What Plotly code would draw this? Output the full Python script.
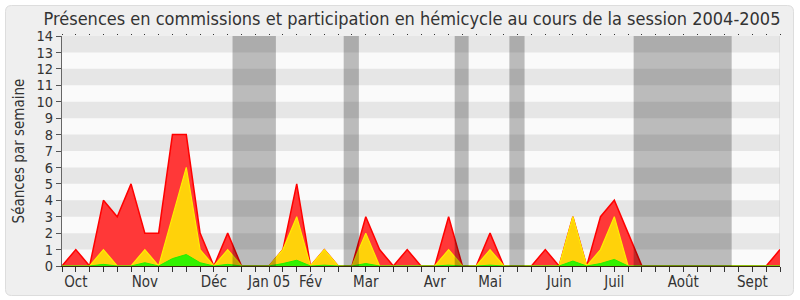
import plotly.graph_objects as go

# ---- data (weekly, session 2004-2005) ----
weeks = list(range(53))
total = [0, 1, 0, 4, 3, 5, 2, 2, 8, 8, 2, 0, 2, 0, 0, 0, 1, 5, 0, 1, 0, 0, 3, 1, 0, 1,
         0, 0, 3, 0, 0, 2, 0, 0, 0, 1, 0, 3, 0, 3, 4, 2, 0, 0, 0, 0, 0, 0, 0, 0, 0, 0, 1]
hemicycle = [0, 0, 0, 1, 0, 0, 1, 0, 3, 6, 1, 0, 1, 0, 0, 0, 1, 3, 0, 1, 0, 0, 2, 0, 0, 0,
             0, 0, 1, 0, 0, 1, 0, 0, 0, 0, 0, 3, 0, 1, 3, 0, 0, 0, 0, 0, 0, 0, 0, 0, 0, 0, 0]
interventions = [0, 0, 0, 0.1, 0, 0, 0.2, 0, 0.45, 0.7, 0.2, 0, 0.1, 0, 0, 0, 0.15, 0.35, 0, 0.05,
                 0, 0, 0.15, 0, 0, 0, 0, 0, 0.05, 0, 0, 0.05, 0, 0, 0, 0, 0, 0.3, 0, 0.15, 0.4, 0,
                 0, 0, 0, 0, 0, 0, 0, 0, 0, 0, 0]
month_labels = ["Oct", "Nov", "Déc", "Jan 05", "Fév", "Mar", "Avr", "Mai", "Juin", "Juil", "Août", "Sept"]
month_weeks = [1, 6, 11, 15, 18, 22, 27, 31, 36, 40, 45, 50]
break_starts = [12.35, 20.4, 28.44, 32.4, 41.4]
break_ends = [15.49, 21.5, 29.45, 33.5, 48.5]
y_ticks = list(range(15))

W, H = 800, 300
L, R, T, B = 62, 20, 36, 34
pw, ph = W - L - R, H - T - B


def fx(px):
    return (px - L) / pw


def fy(py):
    return (H - B - py) / ph


fig = go.Figure()
fig.add_trace(go.Scatter(x=weeks, y=total, mode="lines", fill="tozeroy",
                         line=dict(color="#ff0000", width=1.5), fillcolor="#ff3838",
                         hoverinfo="skip", showlegend=False))
fig.add_trace(go.Scatter(x=weeks, y=hemicycle, mode="lines", fill="tozeroy",
                         line=dict(color="#ffee00", width=1.2), fillcolor="#ffd20a",
                         hoverinfo="skip", showlegend=False))
fig.add_trace(go.Scatter(x=weeks, y=interventions, mode="lines", fill="tozeroy",
                         line=dict(color="#22ee00", width=1), fillcolor="#33f200",
                         hoverinfo="skip", showlegend=False))

shapes = []
# outer rounded panel
x0, x1, y0, y1 = fx(5.5), fx(793.5), fy(5.5), fy(295.5)
r = 6
rx, ry = r / pw, r / ph
path = (f"M {x0+rx},{y0} L {x1-rx},{y0} Q {x1},{y0} {x1},{y0-ry} "
        f"L {x1},{y1+ry} Q {x1},{y1} {x1-rx},{y1} L {x0+rx},{y1} Q {x0},{y1} {x0},{y1+ry} "
        f"L {x0},{y0-ry} Q {x0},{y0} {x0+rx},{y0} Z")
shapes.append(dict(type="path", xref="paper", yref="paper", path=path,
                   fillcolor="#efefef", line=dict(color="#dddddd", width=1), layer="below"))
# plot background and bands
shapes.append(dict(type="rect", xref="x", yref="y", x0=0, x1=52, y0=0, y1=14,
                   fillcolor="#fafafa", line=dict(width=0), layer="below"))
for v in y_ticks[1:-1:2]:
    shapes.append(dict(type="rect", xref="x", yref="y", x0=0, x1=52, y0=v, y1=v + 1,
                       fillcolor="#e6e6e6", line=dict(width=0), layer="below"))
shapes.append(dict(type="line", xref="x", yref="y", x0=52, x1=52, y0=0, y1=14,
                   line=dict(color="#d0d0d0", width=1), layer="below"))
# breaks
for s, e in zip(break_starts, break_ends):
    shapes.append(dict(type="rect", xref="x", yref="y", x0=s, x1=e, y0=0, y1=14,
                       fillcolor="rgba(0,0,0,0.25)", line=dict(width=0), layer="above"))

ticktext = [""] * len(weeks)
for lab, wk in zip(month_labels, month_weeks):
    ticktext[wk] = lab

font = "DejaVu Sans Condensed, DejaVu Sans, sans-serif"
fig.update_layout(
    template="none",
    width=W, height=H,
    margin=dict(l=L, r=R, t=T, b=B, pad=0, autoexpand=False),
    paper_bgcolor="white", plot_bgcolor="rgba(0,0,0,0)",
    shapes=shapes,
    title=dict(text="Présences en commissions et participation en hémicycle au cours de la session 2004-2005",
               font=dict(family=font, size=18, color="#333333"),
               x=412 / W, xanchor="center", xref="container", y=1 - 19 / H, yanchor="middle", yref="container"),
    font=dict(family=font, size=15, color="#333333"),
    xaxis=dict(range=[0, 52], tickmode="array", tickvals=weeks, ticktext=ticktext,
               ticks="outside", ticklen=5, tickwidth=1, tickcolor="#333333",
               showgrid=False, zeroline=False, showline=True, linecolor="#3a2a10", linewidth=1,
               layer="above traces", automargin=False, ticklabelstandoff=-3,
               tickfont=dict(family=font, size=15, color="#333333"), fixedrange=True),
    xaxis2=dict(range=[0, 52], overlaying="x", side="top", tickmode="array", tickvals=weeks,
                ticktext=[""] * len(weeks), ticks="outside", ticklen=1, tickwidth=1, automargin=False,
                tickcolor="#333333", showgrid=False, zeroline=False, showline=False),
    yaxis=dict(range=[0, 14], tickmode="array", tickvals=y_ticks,
               ticks="outside", ticklen=5, tickwidth=1, tickcolor="#555555",
               showgrid=False, zeroline=False, showline=True, linecolor="#666666", linewidth=1,
               automargin=False,
               tickfont=dict(family=font, size=14.5, color="#333333"),
               title=dict(text="Séances par semaine", font=dict(family=font, size=15, color="#333333"),
                          standoff=8), fixedrange=True),
)
fig.add_trace(go.Scatter(x=[0], y=[0], xaxis="x2", mode="markers", marker=dict(opacity=0),
                         hoverinfo="skip", showlegend=False))
fig.write_html("out.html")
